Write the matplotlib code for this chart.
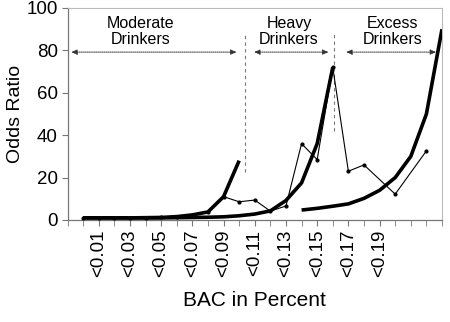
import matplotlib
matplotlib.use("Agg")
import matplotlib.pyplot as plt

plt.rcParams['font.family'] = ['Liberation Sans', 'DejaVu Sans']

# Category positions (1..24) and labels
n_cats = 24
label_positions = [2, 4, 6, 8, 10, 12, 14, 16, 18, 20]
tick_labels = ["<0.01", "<0.03", "<0.05", "<0.07", "<0.09",
               "<0.11", "<0.13", "<0.15", "<0.17", "<0.19"]

# Fitted curves (thick)
moderate_x = list(range(1, 12))
moderate_y = [1.0, 1.0, 1.0, 1.0, 1.1, 1.2, 1.6, 2.4, 3.8, 11, 28]

heavy_x = list(range(1, 18))
heavy_y = [1.0, 1.0, 1.0, 1.0, 1.0, 1.0, 1.1, 1.2, 1.3, 1.5, 2.0, 2.8,
           4.3, 9.2, 17.5, 36, 72]

excess_x = list(range(15, 25))
excess_y = [4.7, 5.5, 6.5, 7.6, 10.2, 14, 20, 30, 50, 90]

# Observed odds ratios (thin), None = no value
observed_x = list(range(1, 24))
observed_y = [1.0, 1.0, 1.0, 1.0, 1.1, 1.2, 1.6, 2.4, 3.8, 11, 8.6, 9.4,
              4.2, 6.6, 36, 28.5, 72, 23, 26, None, 12.2, None, 32.6]

# Group boundaries and annotations
boundaries = [(11.4, 22.5, 88), (17.1, 42, 88)]
groups = [("Moderate\nDrinkers", 4.66, 0.23, 10.84),
          ("Heavy\nDrinkers", 14.2, 11.95, 16.73),
          ("Excess\nDrinkers", 20.85, 17.85, 23.63)]

fig = plt.figure(figsize=(4.5, 3.22), dpi=100)
ax = fig.add_axes([67.5 / 450, 1 - 220 / 322, (442 - 67.5) / 450, (220 - 8) / 322])

ax.plot(heavy_x, heavy_y, color='black', lw=2.6, solid_capstyle='butt', zorder=3)
ax.plot(moderate_x, moderate_y, color='black', lw=2.6, solid_capstyle='butt', zorder=3)
ax.plot(excess_x, excess_y, color='black', lw=2.6, solid_capstyle='butt', zorder=3)

ox = [x for x, y in zip(observed_x, observed_y) if y is not None]
oy = [y for y in observed_y if y is not None]
ax.plot(ox, oy, color='black', lw=0.8, marker='o', markersize=2, zorder=4)

for bx, y0, y1 in boundaries:
    ax.plot([bx, bx], [y0, y1], color='#777777', lw=0.8, linestyle=(0, (3, 3)), zorder=2)

for text, tx, a0, a1 in groups:
    ax.text(tx, 89, text, ha='center', va='center', fontsize=11.5, linespacing=1.1)
    ax.annotate('', xy=(a0, 79.2), xytext=(a1, 79.2),
                arrowprops=dict(arrowstyle='<|-|>,head_length=0.35,head_width=0.15',
                                color='#333333', lw=0.7, linestyle=(0, (1, 1)),
                                shrinkA=0, shrinkB=0))

ax.set_xlim(0, n_cats)
ax.set_ylim(0, 100)
ax.set_yticks([0, 20, 40, 60, 80, 100])
ax.set_xticks(range(0, n_cats + 1), minor=True)
ax.set_xticks(label_positions)
ax.set_xticklabels(tick_labels, rotation=90, fontsize=13.5)
ax.tick_params(axis='y', labelsize=13.5, direction='out', length=4, color='#777777', pad=3)
ax.tick_params(axis='x', which='both', direction='out', length=4, color='#777777', pad=3)

for s in ['left', 'bottom']:
    ax.spines[s].set_color('#777777')
    ax.spines[s].set_linewidth(0.9)
for s in ['top', 'right']:
    ax.spines[s].set_color('#bbbbbb')
    ax.spines[s].set_linewidth(0.8)
    ax.spines[s].set_linestyle((0, (1, 1)))

ax.set_ylabel("Odds Ratio", fontsize=14, labelpad=2)
ax.set_xlabel("BAC in Percent", fontsize=15, labelpad=10)

fig.savefig("out.png", dpi=100)
